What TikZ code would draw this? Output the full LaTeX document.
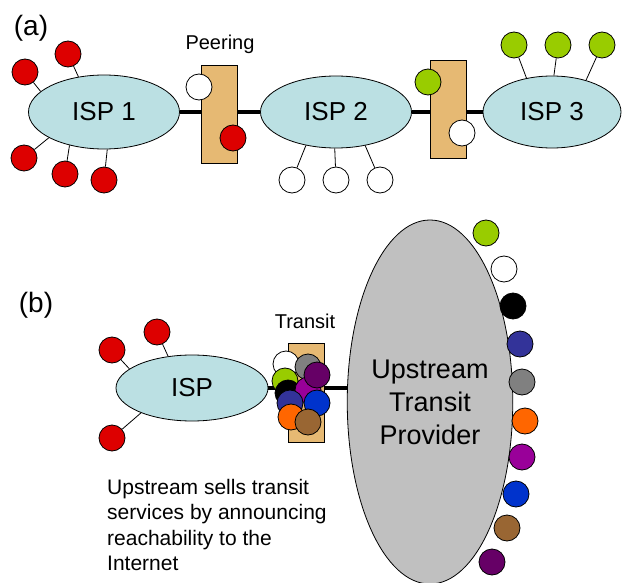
\documentclass[tikz,border=0pt]{standalone}
\usepackage{fontspec}
\setmainfont{Liberation Sans}
\usetikzlibrary{shapes.geometric}
\definecolor{ispblue}{RGB}{187,224,227}
\definecolor{boxtan}{RGB}{230,185,115}
\definecolor{provgray}{RGB}{192,192,192}
\definecolor{hostred}{RGB}{221,0,0}
\definecolor{hostgreen}{RGB}{153,204,0}
\definecolor{hostnavy}{RGB}{51,51,153}
\definecolor{hostgray}{RGB}{128,128,128}
\definecolor{hostorange}{RGB}{255,102,0}
\definecolor{hostmagenta}{RGB}{153,0,153}
\definecolor{hostblue}{RGB}{0,51,204}
\definecolor{hostbrown}{RGB}{153,102,51}
\definecolor{hostplum}{RGB}{102,0,102}
\tikzstyle{isp}=[
        ellipse,
        draw,
        line width=0.8pt,
        fill=ispblue,
        inner sep=0pt,
        font=\fontsize{26}{30}\selectfont
]
\tikzstyle{host}=[
        circle,
        draw,
        line width=0.8pt,
        inner sep=0pt,
        minimum size=26pt
]
\tikzstyle{peerbox}=[
        draw,
        line width=0.8pt,
        fill=boxtan,
        inner sep=0pt,
        minimum width=36pt,
        minimum height=98pt
]
\tikzstyle{link}=[
        line width=3.5pt
]
\tikzstyle{stub}=[
        line width=0.8pt
]
\begin{document}
\begin{tikzpicture}[x=1pt,y=-1pt]
                    \useasboundingbox (0,0) rectangle (624,583);

                    % (a) peering
                    \node[font=\fontsize{28}{32}\selectfont] (labela) at (31,28) {(a)};
                    \node[font=\fontsize{20}{24}\selectfont] (peerlabel) at (220,44) {Peering};

                    \node[isp, minimum width=151pt, minimum height=74pt] (isp1) at (104,112) {ISP 1};
                    \node[isp, minimum width=151pt, minimum height=72pt] (isp2) at (336,112) {ISP 2};
                    \node[isp, minimum width=138pt, minimum height=72pt] (isp3) at (552,112) {ISP 3};

                    \draw[link] (isp1) -- (isp2);
                    \draw[link] (isp2) -- (isp3);

                    \node[peerbox] (peer1) at (219,114) {};
                    \node[peerbox] (peer2) at (448,109) {};

                    \node[host, fill=white] (peer1a) at (199,87) {};
                    \node[host, fill=hostred] (peer1b) at (233,138) {};
                    \node[host, fill=hostgreen] (peer2a) at (428,82) {};
                    \node[host, fill=white] (peer2b) at (462,133) {};

                    \foreach \x/\y/\a [count=\i] in {25/72/162, 68/54/126, 24/158/205, 65/174/224, 104/180/275} {
                        \node[host, fill=hostred] (red\i) at (\x,\y) {};
                        \draw[stub] (red\i) -- (isp1.\a);
                    }

                    \foreach \x/\y/\a [count=\i] in {292/180/228, 336/180/268, 380/180/311} {
                        \node[host, fill=white] (white\i) at (\x,\y) {};
                        \draw[stub] (white\i) -- (isp2.\a);
                    }

                    \foreach \x/\y/\a [count=\i] in {514/45/127, 558/45/87, 602/45/43} {
                        \node[host, fill=hostgreen] (green\i) at (\x,\y) {};
                        \draw[stub] (green\i) -- (isp3.\a);
                    }

                    % (b) transit
                    \node[font=\fontsize{28}{32}\selectfont] (labelb) at (36,305) {(b)};
                    \node[font=\fontsize{20}{24}\selectfont] (transitlabel) at (305,321) {Transit};

                    \node[isp, minimum width=152pt, minimum height=66pt] (isp) at (192,388) {ISP};
                    \node[ellipse, draw, line width=0.8pt, fill=provgray, inner sep=0pt,
                          minimum width=140pt, minimum height=364pt, align=center,
                          font=\fontsize{27}{33}\selectfont] (upstream) at (430,402) {Upstream\\Transit\\Provider};

                    \draw[link] (isp.east) -- (isp.east -| upstream.west);

                    \node[peerbox, minimum height=99pt] (transit) at (306,393) {};

                    \foreach \x/\y/\c [count=\i] in {286/364/white, 308/367/hostgray, 285/381/hostgreen,
                        288/393/black, 308/390/hostmagenta, 317/375/hostplum, 290/403/hostnavy,
                        317/403/hostblue, 291/417/hostorange, 308/422/hostbrown} {
                        \node[host, fill=\c] (bundle\i) at (\x,\y) {};
                    }

                    \foreach \x/\y/\a [count=\i] in {112/350/163, 157/332/127, 112/438/206} {
                        \node[host, fill=hostred] (cust\i) at (\x,\y) {};
                        \draw[stub] (cust\i) -- (isp.\a);
                    }

                    \foreach \x/\y/\c [count=\i] in {486/233/hostgreen, 504/269/white, 513/306/black,
                        520/344/hostnavy, 522/382/hostgray, 525/421/hostorange, 522/457/hostmagenta,
                        516/494/hostblue, 507/528/hostbrown, 492/562/hostplum} {
                        \node[host, fill=\c] (route\i) at (\x,\y) {};
                    }

                    \node[anchor=north west, inner sep=0pt, align=left,
                          font=\fontsize{21}{25.5}\selectfont] (caption) at (107,479)
                          {Upstream sells transit\\services by announcing\\reachability to the\\Internet};

                \end{tikzpicture}
\end{document}
